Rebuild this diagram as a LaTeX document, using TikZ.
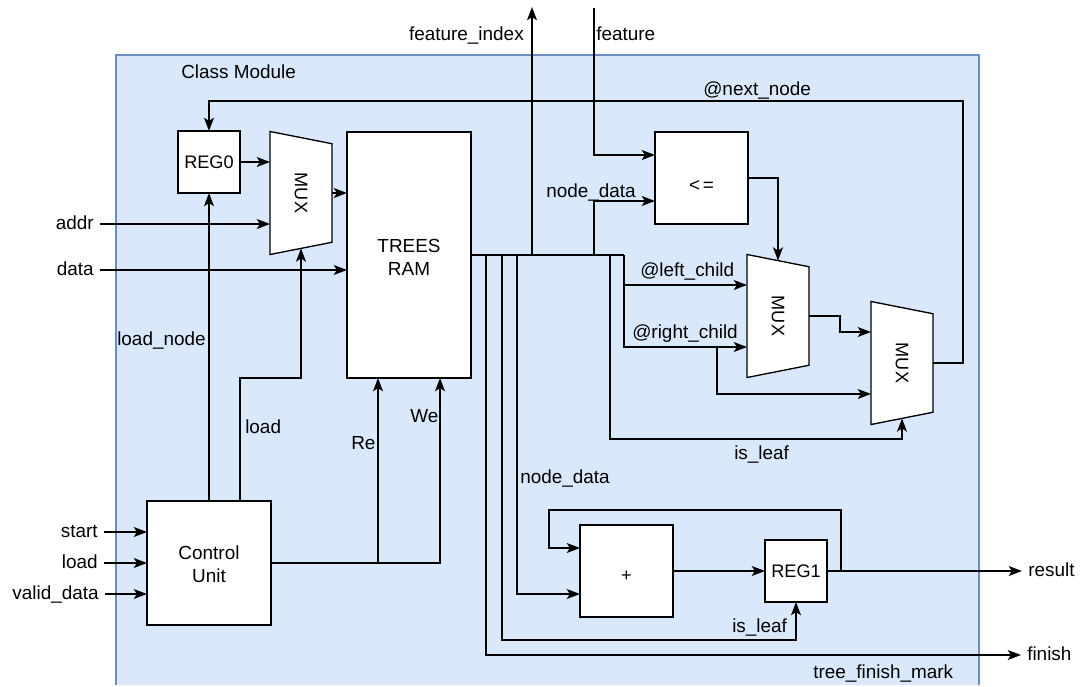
\documentclass[tikz,border=0pt]{standalone}
\usepackage{fontspec}
\setmainfont{Liberation Sans}
\usetikzlibrary{arrows.meta,shapes.geometric}
\definecolor{modfill}{HTML}{DAE8FC}
\definecolor{modline}{HTML}{6C8EBF}
\tikzset{
  basefont/.style={font=\fontsize{14.2}{17.25}\selectfont},
  blockfont/.style={font=\fontsize{13.6}{17.25}\selectfont},
  block/.style={draw,fill=white,line width=1pt,outer sep=0pt,align=center,blockfont},
  regbox/.style={block,minimum width=46.5pt,minimum height=46.5pt},
  medbox/.style={block,minimum width=69.75pt,minimum height=69pt},
  mux/.style={block,trapezium,rotate=-90,trapezium left angle=68.4,trapezium right angle=68.4,
    trapezium stretches=true,minimum width=92.25pt,minimum height=46.5pt,inner sep=0pt},
  wire/.style={line width=1pt,-{Stealth[length=10pt,width=7.5pt,inset=2.5pt]}},
  line/.style={line width=1pt},
  lbl/.style={basefont,inner sep=0pt,text height=11.5pt,text depth=3pt},
  sig/.style={lbl,inner xsep=4.5pt}
}
\begin{document}
\begin{tikzpicture}[x=0.75pt,y=-0.75pt]
  \useasboundingbox (0,0) rectangle (1082,686);

  % Module frame
  \fill[modfill] (116,55) rectangle (979,685);
  \draw[modline,line width=1.1pt] (116,685) -- (116,55) -- (979,55) -- (979,685);
  \node[lbl,anchor=west] (modname) at (181,73) {Class Module};

  % Blocks
  \node[regbox] (reg0) at (209,162) {REG0};
  \node[mux] (mux1) at (301,193) {MUX};
  \node[block,basefont,text height=30.5pt,minimum width=93pt,minimum height=184.5pt] (ram) at (409,255) {TREES\\RAM};
  \node[block,basefont,text height=29.8pt,minimum width=93pt,minimum height=93pt] (cu) at (209,563) {Control\\Unit};
  \node[medbox,basefont,text height=20.6pt] (cmp) at (701.5,178) {<\kern2pt=};
  \node[mux] (mux2) at (778,316) {MUX};
  \node[mux] (mux3) at (902,363) {MUX};
  \node[medbox,text height=16pt,text depth=0pt] (adder) at (626.5,571) {+};
  \node[regbox] (reg1) at (796,571) {REG1};

  % Inputs and outputs
  \node[sig,anchor=east] (addr) at (100,224) {addr};
  \node[sig,anchor=east] (data) at (100,270) {data};
  \node[sig,anchor=east] (start) at (104,532) {start};
  \node[sig,anchor=east] (loadin) at (104,563) {load};
  \node[sig,anchor=east] (valid) at (105,594) {valid\_data};
  \node[sig,anchor=west] (result) at (1022,571) {result};
  \node[sig,anchor=west] (finish) at (1021,655) {finish};
  \coordinate (idxout) at (532,7);
  \coordinate (featin) at (594,8);

  % Wire labels
  \node[lbl,anchor=east] (lblidx) at (524,35) {feature\_index};
  \node[lbl,anchor=west] (lblfeat) at (596,35) {feature};
  \node[lbl,anchor=west] (lblnext) at (703,90) {@next\_node};
  \node[lbl,anchor=west] (lbldata) at (546,192) {node\_data};
  \node[lbl,anchor=west] (lblleft) at (640,271) {@left\_child};
  \node[lbl,anchor=west] (lblright) at (632,333) {@right\_child};
  \node[lbl,anchor=west] (lblload) at (117,340) {load\_node};
  \node[lbl,anchor=west] (lblsel) at (245,428) {load};
  \node[lbl,anchor=west] (lblre) at (351,444) {Re};
  \node[lbl,anchor=west] (lblwe) at (410,417) {We};
  \node[lbl,anchor=west] (lblleafa) at (734,454) {is\_leaf};
  \node[lbl,anchor=west] (lbldatb) at (520,478) {node\_data};
  \node[lbl,anchor=west] (lblleafb) at (732,627) {is\_leaf};
  \node[lbl,anchor=west] (lblmark) at (813,673) {tree\_finish\_mark};

  % Bus out of the RAM
  \coordinate (bus) at (624,255);
  \coordinate (tapfin) at (486,255);
  \coordinate (tapreg) at (502,255);
  \coordinate (tapadd) at (517,255);
  \coordinate (tapidx) at (532,255);
  \coordinate (tapcmp) at (594,255);
  \coordinate (tapleaf) at (610,255);
  \draw[line] (ram.east) -- (bus);

  % Left side
  \draw[wire] (addr.east) -- (mux1.bottom side |- addr.east);
  \draw[wire] (data.east) -- (ram.west |- data.east);
  \draw[wire] (start.east) -- (cu.west |- start.east);
  \draw[wire] (loadin.east) -- (cu.west |- loadin.east);
  \draw[wire] (valid.east) -- (cu.west |- valid.east);
  \draw[wire] (reg0.east) -- (mux1.bottom side |- reg0.east);
  \draw[wire] (mux1.top side) -- (ram.west |- mux1.top side);
  \draw[wire] (cu.north) -- (reg0.south);
  \coordinate (loadtap) at (240,501);
  \draw[wire] (loadtap) |- (mux1.right side |- ram.south) -- (mux1.right side);
  \coordinate (rein) at (378,378);
  \coordinate (wein) at (440,378);
  \draw[wire] (cu.east) -| (wein);
  \draw[wire] (rein |- cu.east) -- (rein);

  % Comparator and multiplexers
  \draw[wire] (tapidx) -- (idxout);
  \coordinate (cmpa) at (655,155);
  \coordinate (cmpb) at (655,201);
  \draw[wire] (featin) |- (cmpa);
  \draw[wire] (tapcmp) |- (cmpb);
  \draw[wire] (cmp.east) -| (mux2.left side);
  \coordinate (mux2a) at (747,285);
  \coordinate (mux2b) at (747,347);
  \coordinate (tapright) at (717,347);
  \coordinate (mux3a) at (871,332);
  \coordinate (mux3b) at (871,394);
  \coordinate (muxturn) at (840,332);
  \coordinate (leafturn) at (902,439);
  \coordinate (nextturn) at (963,101);
  \draw[wire] (bus) |- (mux2a);
  \draw[wire] (bus) |- (mux2b);
  \draw[wire] (tapright) |- (mux3b);
  \draw[wire] (mux2.top side) -| (muxturn) -- (mux3a);
  \draw[wire] (tapleaf) |- (leafturn) -- (mux3.right side);
  \draw[wire] (mux3.top side) -| (nextturn) -| (reg0.north);

  % Adder and result register
  \coordinate (adda) at (580,548);
  \coordinate (addb) at (580,594);
  \coordinate (fbtap) at (841,571);
  \coordinate (fbturn) at (549,510);
  \coordinate (regturn) at (796,640);
  \draw[wire] (adder.east) -- (reg1.west);
  \draw[wire] (reg1.east) -- (result.west);
  \draw[wire] (fbtap) |- (fbturn) |- (adda);
  \draw[wire] (tapadd) |- (addb);
  \draw[wire] (tapreg) |- (regturn) -- (reg1.south);
  \draw[wire] (tapfin) |- (finish.west);
\end{tikzpicture}
\end{document}
